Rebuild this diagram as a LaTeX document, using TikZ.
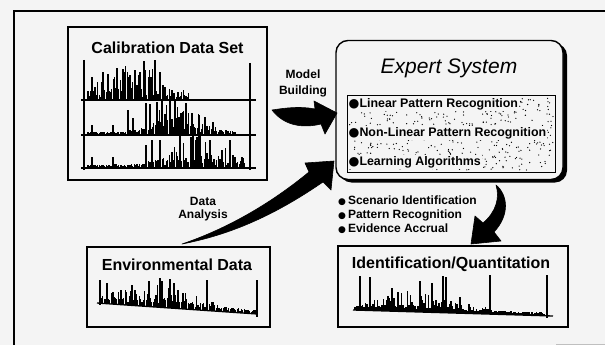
\documentclass[tikz,border=0pt]{standalone}
\usepackage{fontspec}
\setmainfont{Liberation Sans}
\newfontfamily\symfont{DejaVu Sans}
\definecolor{paper}{RGB}{244,244,244}

% one chromatogram-like trace: x from #1 to #2, baseline #3 (may use \x),
% peak envelope #4 (may use \x), spacing #5
\newcommand\drawspec[5]{%
  \pgfmathsetmacro\xsec{#1+#5}%
  \foreach \x in {#1,\xsec,...,#2}{%
    \pgfmathsetmacro\yb{#3}%
    \pgfmathsetmacro\env{#4}%
    \pgfmathsetmacro\rr{rnd}%
    \pgfmathsetmacro\hh{\env*\rr*\rr + 0.25*\env*rnd + 1.5 + 2*rnd}%
    \draw[spike] (\x,\yb) -- (\x,\yb-\hh);
  }%
}

\begin{document}
\begin{tikzpicture}[x=1pt,y=-1pt,
  panel/.style={draw, line width=1.4pt, fill=paper, inner sep=0pt},
  title/.style={font=\bfseries\fontsize{16}{18}\selectfont, inner sep=0pt},
  note/.style={font=\bfseries\fontsize{12}{14}\selectfont, align=center, inner sep=0pt},
  item/.style={font=\bfseries\fontsize{12.4}{14}\selectfont, inner sep=1pt, fill=paper, anchor=west},
  spike/.style={line width=1.15pt},
  axisline/.style={line width=1.5pt},
  bigarrow/.style={fill=black, draw=black, line width=0.6pt, line join=round}]
\useasboundingbox (0,0) rectangle (605,345);
\fill[paper] (0,0) rectangle (605,345);
\pgfmathsetseed{4711}

% outer frame
\draw[line width=2pt] (14,345) -- (14,11) -- (605,11);
\draw[black!25, line width=1pt] (556,344) -- (605,344);

% ---------- Calibration data set ----------
\node[panel, minimum width=199pt, minimum height=153pt] (calib) at (167.5,103.5) {};
\node[title] (calibT) at (167.5,48) {Calibration Data Set};
\begin{scope}
  \drawspec{88}{190}{100}{34*exp(-(\x-135)*(\x-135)/1600)}{1.4}
  \foreach \px/\py in {92/77,103/72,108/74,117/68,125/72,135/70,140/72,145/70,155/60,160/72,163/85,172/90,178/92}
    \draw[spike] (\px,100) -- (\px,\py);
  \drawspec{88}{235}{135}{32*exp(-(\x-178)*(\x-178)/900)}{1.4}
  \foreach \px/\py in {92/125,113/125,128/110,133/118,146/103,150/104,157/102,162/100,170/99,175/100,183/112,192/113,199/115,205/117,213/122}
    \draw[spike] (\px,135) -- (\px,\py);
  \drawspec{88}{246}{168}{30*exp(-(\x-200)*(\x-200)/1300)}{1.4}
  \foreach \px/\py in {92/157,113/157,146/145,152/140,160/140,180/136,191/137,197/137,210/140,222/150,230/140,242/157}
    \draw[spike] (\px,168) -- (\px,\py);
  \foreach \yy in {100,135,168} \draw[line width=1.3pt] (81,\yy) -- (256,\yy);
  \draw[axisline] (84,60) -- (84,170);
  \draw[axisline] (250,63) -- (250,170);
\end{scope}

% ---------- Environmental data ----------
\node[panel, minimum width=183pt, minimum height=80pt] (env) at (178.5,287) {};
\node[title] (envT) at (177,265) {Environmental Data};
\drawspec{100}{256}{303+(\x-100)*0.07}{20*exp(-(\x-160)*(\x-160)/2500)}{1.4}
\foreach \px/\py in {107/283,113/292,121/290,132/285,149/281,160/278,162/281,170/279,174/283,178/290,183/293,207/280}
  \draw[spike] (\px,{303+(\px-100)*0.07}) -- (\px,\py);
\draw[axisline] (100,280) -- (100,305);
\draw[axisline] (257,280) -- (257,317);
\draw[line width=1.3pt] (97,303) -- (257,314);

% ---------- Identification / quantitation ----------
\node[panel, minimum width=230pt, minimum height=81pt] (ident) at (453,286.5) {};
\node[title] (identT) at (451,264) {Identification/Quantitation};
\drawspec{355}{545}{310+(\x-355)*0.03}{18*exp(-(\x-420)*(\x-420)/2500)}{1.5}
\foreach \px/\py in {360/276,370/277,392/288,398/292,420/281,432/283,443/276,446/277,460/297,490/275}
  \draw[spike] (\px,{310+(\px-355)*0.03}) -- (\px,\py);
\draw[axisline] (547,275) -- (547,318);
\draw[line width=1.3pt] (353,310) -- (553,316);

% ---------- Expert system ----------
\fill[black, rounded corners=12pt] (339.5,43.5) rectangle (567,182.5);
\node[panel, rounded corners=12pt, minimum width=227pt, minimum height=139pt] (expert) at (449.5,110) {};
\node[font=\itshape\fontsize{21}{24}\selectfont, inner sep=0pt] (expT) at (449,68) {Expert System};
\node[draw, line width=0.9pt, minimum width=208pt, minimum height=77pt, inner sep=0pt] (rules) at (451,133.5) {};
\foreach \i in {1,...,480}{
  \pgfmathsetmacro\sx{349+204*rnd}
  \pgfmathsetmacro\sy{97+73*rnd}
  \fill (\sx,\sy) circle (0.65pt);
}
\node[item] (r1) at (347.5,104) {{\symfont ●}Linear Pattern Recognition};
\node[item] (r2) at (347.5,133) {{\symfont ●}Non-Linear Pattern Recognition};
\node[item] (r3) at (347.5,162) {{\symfont ●}Learning Algorithms};

% ---------- labels ----------
\node[note, font=\bfseries\fontsize{12}{16}\selectfont] (mb) at (303,83) {Model\\Building};
\node[note, font=\bfseries\fontsize{12}{13}\selectfont] (da) at (203,209.5) {Data\\Analysis};
\node[font=\bfseries\fontsize{12}{14}\selectfont, align=left, anchor=west, inner sep=0pt] (steps) at (338,215)
  {{\symfont\fontsize{9}{14}\selectfont ●}\,Scenario Identification\\
   {\symfont\fontsize{9}{14}\selectfont ●}\,Pattern Recognition\\
   {\symfont\fontsize{9}{14}\selectfont ●}\,Evidence Accrual};

% ---------- block arrows ----------
% model building: calibration -> expert system
\path[bigarrow] (272,110) .. controls (285,108) and (300,106) .. (315,109)
  -- (314,101) -- (337,113) -- (325,134) -- (321,124)
  .. controls (305,128) and (285,127) .. (272,110) -- cycle;
% data analysis: environmental data -> expert system
\path[bigarrow] (182,244) .. controls (232,227) and (275,200) .. (309,172)
  -- (305,163) -- (334,161) -- (331,190) -- (323,182)
  .. controls (285,208) and (240,233) .. (182,244) -- cycle;
% expert system -> identification
\path[bigarrow] (496,185) .. controls (508,195) and (510,215) .. (494,232)
  -- (501,241) -- (471,244) -- (475,216) -- (483,223)
  .. controls (496,212) and (500,198) .. (496,185) -- cycle;
\end{tikzpicture}
\end{document}
